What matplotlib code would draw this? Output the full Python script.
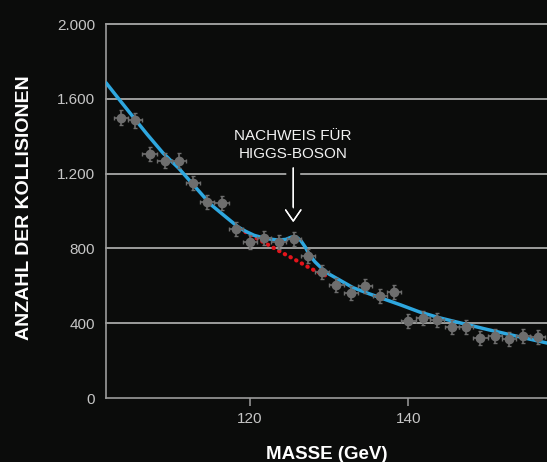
import matplotlib
matplotlib.use("Agg")
import matplotlib.pyplot as plt
import matplotlib.patheffects as pe
from matplotlib.ticker import FuncFormatter

# measured collisions (mass in GeV, count)
mass = [103.7, 105.5, 107.3, 109.2, 111.0, 112.8, 114.6, 116.4, 118.2, 120.0,
        121.8, 123.6, 125.5, 127.3, 129.1, 130.9, 132.7, 134.5, 136.4, 138.2,
        140.0, 141.8, 143.6, 145.5, 147.3, 149.1, 150.9, 152.7, 154.5, 156.4]
counts = [1500, 1484, 1306, 1270, 1270, 1151, 1049, 1044, 905, 836,
          857, 836, 852, 761, 675, 606, 563, 600, 547, 568,
          413, 429, 418, 381, 381, 322, 333, 317, 333, 328]

# fitted curve (background + signal)
fit_x = [101.8, 103.4, 105, 107, 109, 111, 113, 115, 117, 118.5,
         119.5, 120.5, 121.5, 122.5, 123.5, 124.5, 125.2, 125.8, 126.4, 127.0,
         127.5, 128.2, 129.0, 130.0, 131.3, 133, 135, 137, 139, 141.4,
         144, 146.8, 150, 153, 157.5]
fit_y = [1686, 1600, 1515, 1410, 1310, 1228, 1132, 1036, 966, 914,
         890, 870, 858, 850, 845, 848, 860, 862, 842, 805,
         765, 728, 695, 662, 631, 590, 558, 528, 498, 460,
         428, 399, 366, 337, 294]

# background only
bg_x = [119.4, 121.0, 122.5, 124.0, 125.5, 127.0, 128.5, 130.0]
bg_y = [888, 850, 814, 778, 744, 708, 674, 646]

BG = "#0b0c0b"
plt.rcParams["font.family"] = ["Liberation Sans", "DejaVu Sans"]

fig = plt.figure(figsize=(5.47, 4.62), dpi=100, facecolor=BG)
ax = fig.add_axes([106 / 547, 64 / 462, 441 / 547, 374 / 462])
ax.set_facecolor(BG)

ax.set_xlim(101.8, 157.5)
ax.set_ylim(0, 2000)
ax.set_yticks([0, 400, 800, 1200, 1600, 2000])
ax.set_xticks([120, 140])
ax.yaxis.set_major_formatter(FuncFormatter(lambda v, p: f"{int(v):,}".replace(",", ".")))

for y in [400, 800, 1200, 1600, 2000]:
    ax.axhline(y, color="#c4c4c4", lw=1.1, zorder=1, clip_on=False)

for s in ["top", "right"]:
    ax.spines[s].set_visible(False)
for s in ["left", "bottom"]:
    ax.spines[s].set_color("#9c9c9c")
    ax.spines[s].set_linewidth(1.2)

ax.tick_params(axis="y", length=0, pad=8, labelsize=11, labelcolor="#c6c6c6")
ax.tick_params(axis="x", length=6, width=1.1, color="#9c9c9c", pad=4,
               labelsize=11, labelcolor="#c6c6c6")

ax.plot(bg_x, bg_y, color="#e3141b", lw=3.0, linestyle=(0, (0.1, 1.45)),
        dash_capstyle="round", zorder=3)
ax.plot(fit_x, fit_y, color="#2ea7df", lw=2.5, solid_capstyle="round", zorder=3.5)

ax.errorbar(mass, counts, xerr=0.9, yerr=38, fmt="o", color="#6e6e6e",
            ms=6, elinewidth=1.2, capsize=1.5, capthick=1.0, zorder=4)

# arrow + note
ax.annotate("", xy=(125.45, 925), xytext=(125.45, 1245),
            arrowprops=dict(arrowstyle="->,head_length=0.8,head_width=0.55",
                            color="white", lw=1.0,
                            path_effects=[pe.withStroke(linewidth=10, foreground=BG),
                                          pe.Normal()]),
            zorder=2)
ax.text(125.45, 1353, "NACHWEIS FÜR\nHIGGS-BOSON", ha="center", va="center",
        fontsize=11, color="#f2f2f2", linespacing=1.3, zorder=5)

fig.text(25 / 547, 1 - 208 / 462, "ANZAHL DER KOLLISIONEN", rotation=90,
         ha="center", va="center", fontsize=14, fontweight="bold", color="white")
fig.text(326.5 / 547, 3 / 462, "MASSE (GeV)", ha="center", va="baseline",
         fontsize=13.5, fontweight="bold", color="white")

fig.savefig("out.png", dpi=100, facecolor=BG)
